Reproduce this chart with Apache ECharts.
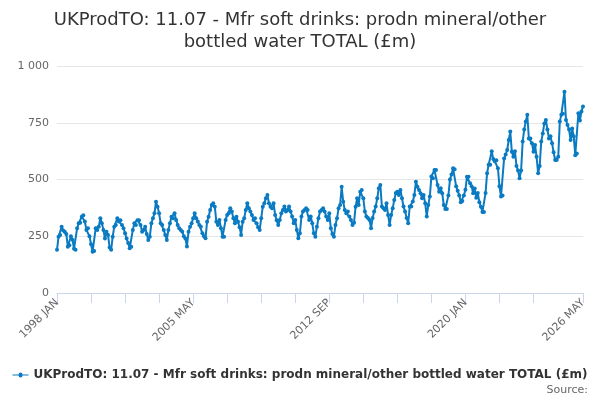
<!DOCTYPE html>
<html><head><meta charset="utf-8">
<script src="https://cdn.jsdelivr.net/npm/echarts@6/dist/echarts.min.js"></script>
<style>html,body{margin:0;padding:0;background:#fff}#c{width:600px;height:400px}</style>
</head><body><div id="c"></div>
<script>
const years = [1998,1999,2000,2001,2002,2003,2004,2005,2006,2007,2008,2009,2010,2011,2012,2013,2014,2015,2016,2017,2018,2019,2020,2021,2022,2023,2024,2025,2026];
const months = ['JAN','FEB','MAR','APR','MAY','JUN','JUL','AUG','SEP','OCT','NOV','DEC'];
const v1998 = [190,248,255,292,275,270,260,204,210,250,235,195];
const v1999 = [190,285,307,310,336,343,315,278,285,250,215,182];
const v2000 = [185,285,278,292,329,307,278,240,270,255,200,190];
const v2001 = [248,292,300,329,315,321,300,285,263,240,220,197];
const v2002 = [204,278,307,300,321,321,300,270,278,292,260,234];
const v2003 = [248,307,329,351,402,380,351,307,300,278,255,234];
const v2004 = [278,307,336,329,351,322,300,285,278,270,250,240];
const v2005 = [205,270,292,307,329,351,329,315,300,292,263,250];
const v2006 = [241,314,336,366,388,395,380,314,300,322,285,248];
const v2007 = [248,322,344,351,373,359,329,307,336,314,290,256];
const v2008 = [314,329,366,395,373,359,344,322,329,307,290,277];
const v2009 = [329,380,395,417,432,395,380,373,395,344,320,300];
const v2010 = [322,351,366,381,359,366,381,359,337,307,322,278];
const v2011 = [241,263,337,359,366,373,366,322,337,307,263,248];
const v2012 = [292,329,359,366,373,359,337,322,351,285,260,248];
const v2013 = [300,329,373,388,468,402,366,351,359,337,322,300];
const v2014 = [310,380,417,388,446,454,417,359,337,330,322,285];
const v2015 = [330,359,381,417,462,476,381,373,366,395,344,300];
const v2016 = [344,373,410,440,446,432,454,417,381,359,330,307];
const v2017 = [381,381,403,432,490,468,454,439,417,432,395,337];
const v2018 = [388,425,513,505,542,542,476,446,461,439,388,370];
const v2019 = [370,430,500,522,550,545,470,450,430,400,405,430];
const v2020 = [455,512,512,483,470,439,460,420,440,400,380,357];
const v2021 = [357,440,528,565,565,624,590,580,585,550,470,425];
const v2022 = [430,593,610,630,674,711,622,600,625,560,540,505];
const v2023 = [540,667,720,755,785,681,681,660,622,652,600,527];
const v2024 = [560,667,703,747,762,720,681,690,660,620,586,586];
const v2025 = [600,755,785,790,887,762,740,720,674,725,690,607];
const v2026 = [615,792,760,800,822];
const yearValues = [v1998,v1999,v2000,v2001,v2002,v2003,v2004,v2005,v2006,v2007,v2008,v2009,v2010,v2011,v2012,v2013,v2014,v2015,v2016,v2017,v2018,v2019,v2020,v2021,v2022,v2023,v2024,v2025,v2026];
const yTicks = ['0','250','500','750','1 000'];
const seriesName = 'UKProdTO: 11.07 - Mfr soft drinks: prodn mineral/other bottled water TOTAL (£m)';

const categories = [], values = [];
years.forEach((y, i) => yearValues[i].forEach((v, m) => { categories.push(y + ' ' + months[m]); values.push(v); }));
const last = categories.length - 1;
const FONT = 'DejaVu Sans';

const chart = echarts.init(document.getElementById('c'), null, {renderer: 'canvas'});
chart.setOption({
  animation: false,
  title: {
    text: 'UKProdTO: 11.07 - Mfr soft drinks: prodn mineral/other\nbottled water TOTAL (£m)',
    left: 'center', top: 4,
    textStyle: {fontFamily: FONT, fontSize: 18, fontWeight: 'normal', color: '#333', lineHeight: 22}
  },
  grid: {left: 57, right: 17, top: 66, bottom: 107},
  xAxis: {
    type: 'category', data: categories, boundaryGap: false,
    axisLine: {lineStyle: {color: '#ccd6eb'}},
    axisTick: {length: 10, lineStyle: {color: '#ccd6eb'}, interval: (i) => (i % 22 === 0 && i < 330) || i === last},
    axisLabel: {
      rotate: 45, color: '#666', fontFamily: FONT, fontSize: 11, margin: 8,
      interval: (i) => i % 88 === 0 || i === last
    },
    splitLine: {show: false}
  },
  yAxis: {
    type: 'value', min: 0, max: 1000, interval: 250,
    axisLine: {show: false}, axisTick: {show: false},
    axisLabel: {color: '#666', fontFamily: FONT, fontSize: 11, margin: 8,
      formatter: (v) => yTicks[Math.round(v / 250)]},
    splitLine: {lineStyle: {color: '#e6e6e6'}}
  },
  legend: {
    left: 'center', top: 364, itemWidth: 16, itemHeight: 8, itemGap: 6,
    icon: 'path://M0,3.5L6,3.5A2,2 0 1 1 10,3.5L16,3.5L16,4.5L10,4.5A2,2 0 1 1 6,4.5L0,4.5Z',
    textStyle: {fontFamily: FONT, fontSize: 12, fontWeight: 'bold', color: '#333'},
    data: [seriesName]
  },
  graphic: [{
    type: 'text', right: 12, top: 385,
    style: {text: 'Source:', font: '11px "DejaVu Sans"', fill: '#666'}
  }],
  series: [{
    name: seriesName, type: 'line', data: values,
    symbol: 'circle', symbolSize: 4, showAllSymbol: true,
    lineStyle: {color: '#0a7bc2', width: 2},
    itemStyle: {color: '#0a7bc2'}
  }]
});
</script></body></html>
